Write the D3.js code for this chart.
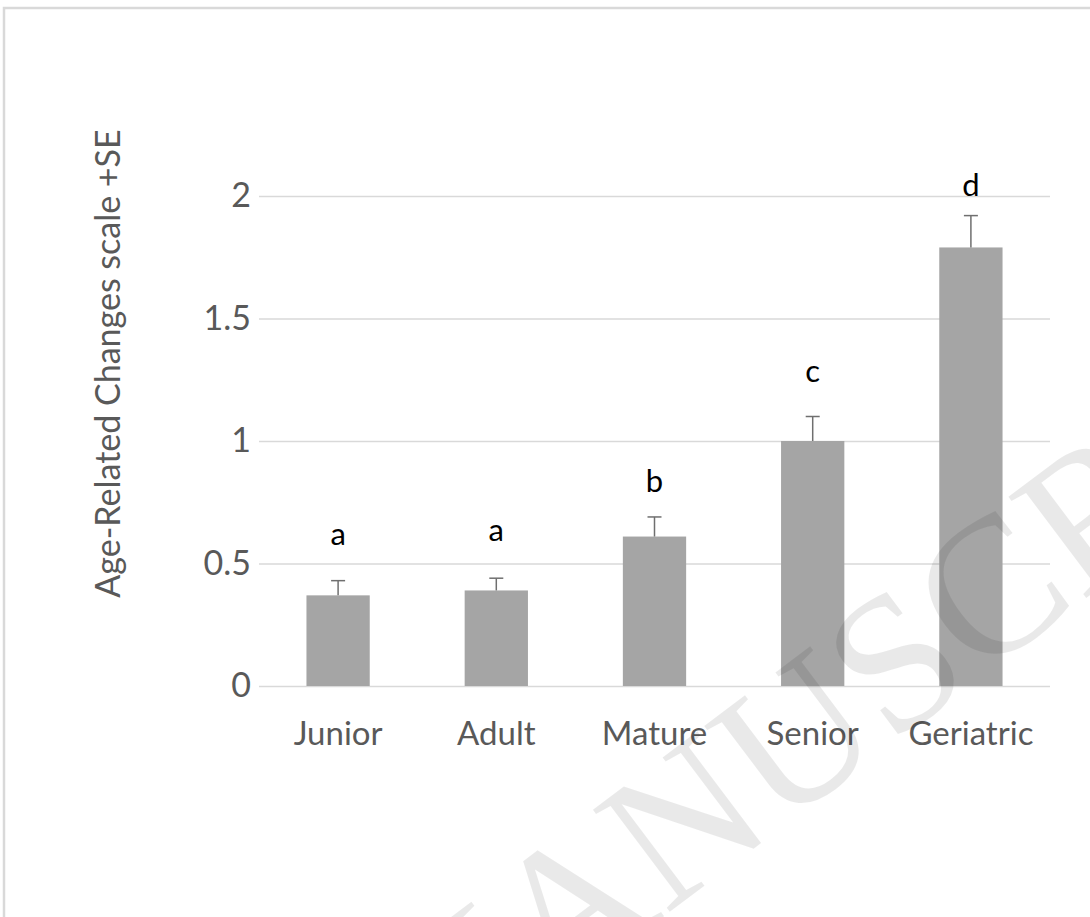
<!DOCTYPE html>
<html>
<head>
<meta charset="utf-8">
<script src="https://cdn.jsdelivr.net/npm/d3@7"></script>
<style>
  html, body { margin: 0; padding: 0; background: #ffffff; }
  svg { display: block; }
</style>
</head>
<body>
<svg id="chart" width="1090" height="917"></svg>
<script>
// Age groups and their mean scores with standard errors
const categories = ["Junior", "Adult", "Mature", "Senior", "Geriatric"];
const means = [0.37, 0.39, 0.61, 1.00, 1.79];
const stdErr = [0.06, 0.05, 0.08, 0.10, 0.13];
// Significance-group letters and the axis level each one sits at
const groupLetters = ["a", "a", "b", "c", "d"];
const letterLevel = [0.576, 0.592, 0.792, 1.241, 2.0];
const yTicks = [0, 0.5, 1, 1.5, 2];
const yTitle = "Age-Related Changes scale +SE";

const W = 1090, H = 917;
const plot = { left: 259, right: 1050, top: 196, bottom: 686 };
const FONT = "Lato, 'Open Sans', 'DejaVu Sans', sans-serif";

const svg = d3.select("#chart");

// outer frame
svg.append("rect")
  .attr("x", 4).attr("y", 8)
  .attr("width", W + 20).attr("height", H + 20)
  .attr("fill", "#ffffff")
  .attr("stroke", "#d9d9d9")
  .attr("stroke-width", 2.5);

const x = d3.scaleBand()
  .domain(categories)
  .range([plot.left, plot.right])
  .paddingInner(0.6)
  .paddingOuter(0.3);

const y = d3.scaleLinear()
  .domain([0, 2])
  .range([plot.bottom, plot.top]);

// horizontal gridlines
const grid = svg.append("g")
  .attr("transform", `translate(${plot.left},0)`)
  .call(d3.axisLeft(y).tickValues(yTicks).tickSize(-(plot.right - plot.left)).tickFormat(""));
grid.select(".domain").remove();
grid.selectAll(".tick line").attr("stroke", "#d9d9d9").attr("stroke-width", 1.3);

// y tick labels
const yAxis = svg.append("g")
  .attr("transform", `translate(${plot.left},0)`)
  .call(d3.axisLeft(y).tickValues(yTicks).tickSize(0).tickPadding(8).tickFormat(d => String(d)));
yAxis.select(".domain").remove();
yAxis.selectAll("text")
  .attr("fill", "#595959")
  .style("font-family", FONT)
  .style("font-size", "34px");

// x category labels
const xAxis = svg.append("g")
  .attr("transform", `translate(0,${plot.bottom})`)
  .call(d3.axisBottom(x).tickSize(0));
xAxis.select(".domain").remove();
xAxis.selectAll("text")
  .attr("y", 59).attr("dy", null)
  .attr("fill", "#595959")
  .style("font-family", FONT)
  .style("font-size", "33px");

// y axis title
svg.append("text")
  .attr("transform", `translate(120,${(133 + 594) / 2}) rotate(-90)`)
  .attr("text-anchor", "middle")
  .attr("fill", "#595959")
  .style("font-family", FONT)
  .style("font-size", "34px")
  .text(yTitle);

// bars
svg.append("g")
  .selectAll("rect")
  .data(categories)
  .join("rect")
  .attr("x", d => x(d))
  .attr("width", x.bandwidth())
  .attr("y", (d, i) => y(means[i]))
  .attr("height", (d, i) => y(0) - y(means[i]))
  .attr("fill", "#a5a5a5");

// error bars (+SE only)
const capHalf = 7;
const eb = svg.append("g")
  .attr("stroke", "#6f6f6f")
  .attr("stroke-width", 1.5)
  .attr("fill", "none");
categories.forEach((c, i) => {
  const cx = x(c) + x.bandwidth() / 2;
  eb.append("line")
    .attr("x1", cx).attr("x2", cx)
    .attr("y1", y(means[i])).attr("y2", y(means[i] + stdErr[i]));
  eb.append("line")
    .attr("x1", cx - capHalf).attr("x2", cx + capHalf)
    .attr("y1", y(means[i] + stdErr[i])).attr("y2", y(means[i] + stdErr[i]));
});

// group letters
svg.append("g")
  .selectAll("text")
  .data(categories)
  .join("text")
  .attr("x", d => x(d) + x.bandwidth() / 2)
  .attr("y", (d, i) => y(letterLevel[i]))
  .attr("text-anchor", "middle")
  .attr("fill", "#000000")
  .style("font-family", FONT)
  .style("font-size", "31px")
  .text((d, i) => groupLetters[i]);

// diagonal watermark
const wmText = "ACCEPTED MANUSCRIPT";
const wmSize = 195;
const wmAngle = -37;
const WM_FONT = "'Liberation Serif', 'DejaVu Serif', serif";
const wm = svg.append("text")
  .attr("x", 0).attr("y", 0)
  .attr("fill", "rgba(0,0,0,0.085)")
  .style("font-family", WM_FONT)
  .style("font-size", wmSize + "px")
  .text(wmText);
// anchor: centre of the "C" in MANUSCRIPT
const probe = svg.append("text")
  .style("font-family", WM_FONT)
  .style("font-size", wmSize + "px");
const cIdx = wmText.lastIndexOf("C");
probe.text(wmText.slice(0, cIdx));
const pre = probe.node().getComputedTextLength();
probe.text("C");
const cw = probe.node().getComputedTextLength();
probe.remove();
const ax = pre + cw / 2, ay = -0.33 * wmSize;
const target = [990, 590];
const rad = wmAngle * Math.PI / 180;
const rx = ax * Math.cos(rad) - ay * Math.sin(rad);
const ry = ax * Math.sin(rad) + ay * Math.cos(rad);
wm.attr("transform", `translate(${target[0] - rx},${target[1] - ry}) rotate(${wmAngle})`);
</script>
</body>
</html>
